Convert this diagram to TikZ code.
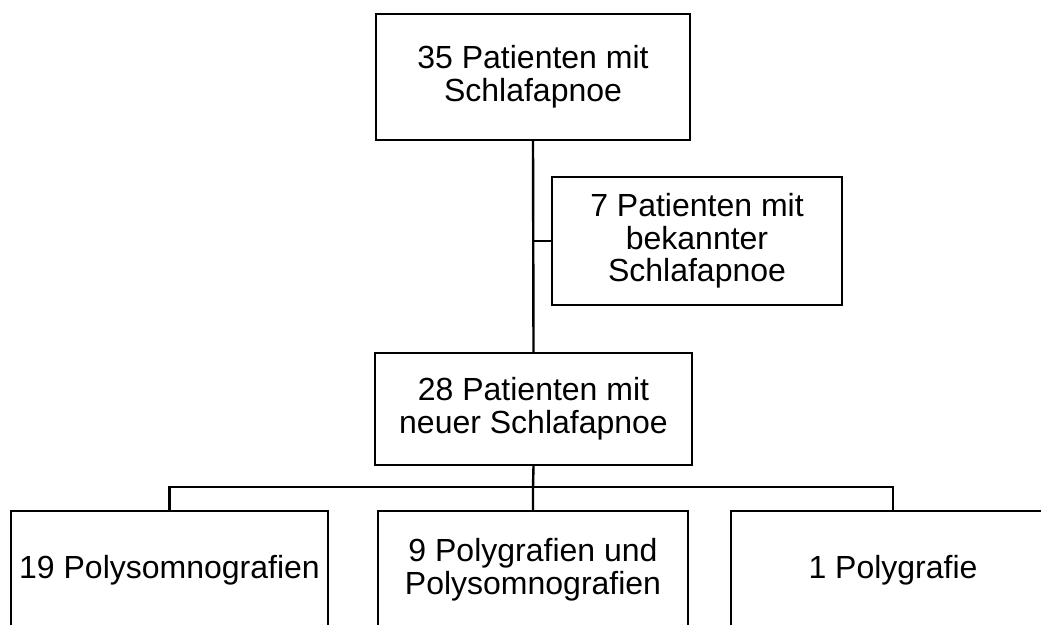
\documentclass[tikz,border=0pt]{standalone}
\usepackage{fontspec}
\setmainfont{Liberation Sans}
\usetikzlibrary{positioning}

\begin{document}
\begin{tikzpicture}[
  x=0.75pt, y=-0.75pt,
  box/.style={draw,line width=1.8pt,align=center,inner sep=0pt,
    font=\fontsize{24}{24.5}\selectfont},
  link/.style={line width=1.8pt}
]
\useasboundingbox (0,0) rectangle (1041,624);
\node[box,minimum width=235.5pt,minimum height=94.5pt] (total) at (533,77)
  {35 Patienten mit\\Schlafapnoe};
\node[box,minimum width=217.5pt,minimum height=96pt] (known) at (697,241)
  {7 Patienten mit\\bekannter\\Schlafapnoe};
\node[box,minimum width=237.75pt,minimum height=84pt] (newdx) at (533.5,409)
  {28 Patienten mit\\neuer Schlafapnoe};
\node[box,minimum width=237.75pt,minimum height=88.5pt] (psg) at (169.5,570)
  {19 Polysomnografien};
\node[box,minimum width=232.5pt,minimum height=88.5pt] (both) at (533,570)
  {9 Polygrafien und\\Polysomnografien};
\node[box,minimum width=243pt,minimum height=88.5pt] (pg) at (893,570)
  {1 Polygrafie};
\coordinate (bus) at (533,487);
\draw[link] (total.south) -- (newdx.north);
\draw[link] (known.west) -- (known.west -| total.south);
\draw[link] (newdx.south) -- (bus) -- (both.north);
\draw[link] (psg.north) |- (bus) -| (pg.north);
\end{tikzpicture}
\end{document}
